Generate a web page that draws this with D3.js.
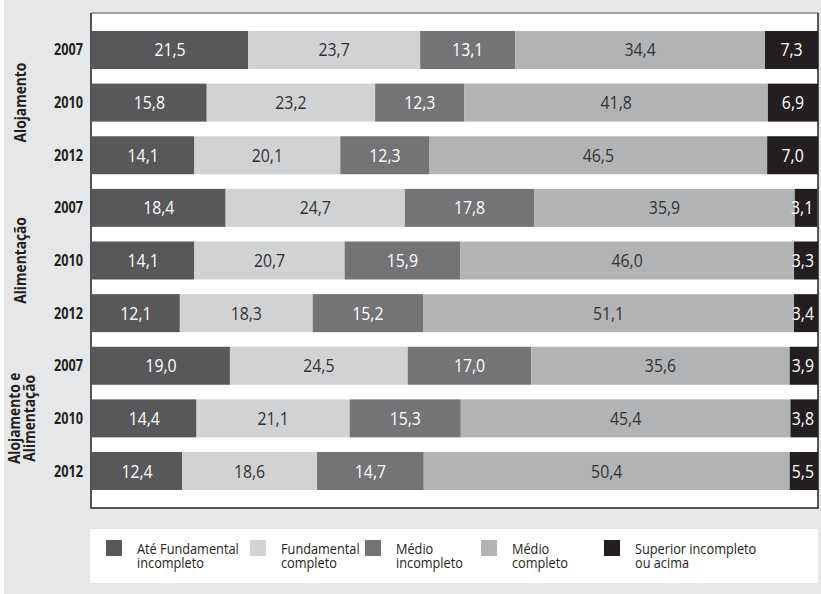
<!DOCTYPE html>
<html>
<head>
<meta charset="utf-8">
<script src="https://cdn.jsdelivr.net/npm/d3@7"></script>
<style>
  body { margin: 0; background: #fff; }
  text { font-family: "Open Sans", sans-serif; }
</style>
</head>
<body>
<div id="chart"></div>
<script>
const width = 821;
const height = 594;

// data
const groups = ["Alojamento", "Alimentação", "Alojamento e Alimentação"];
const years = ["2007", "2010", "2012"];
const categories = ["Até Fundamental incompleto", "Fundamental completo", "Médio incompleto", "Médio completo", "Superior incompleto ou acima"];
const alojamento = [
  [21.5, 23.7, 13.1, 34.4, 7.3],
  [15.8, 23.2, 12.3, 41.8, 6.9],
  [14.1, 20.1, 12.3, 46.5, 7.0]
];
const alimentacao = [
  [18.4, 24.7, 17.8, 35.9, 3.1],
  [14.1, 20.7, 15.9, 46.0, 3.3],
  [12.1, 18.3, 15.2, 51.1, 3.4]
];
const ambos = [
  [19.0, 24.5, 17.0, 35.6, 3.9],
  [14.4, 21.1, 15.3, 45.4, 3.8],
  [12.4, 18.6, 14.7, 50.4, 5.5]
];

const colors = ["#58585a", "#d1d2d3", "#747476", "#b2b3b5", "#231f20"];
const textColors = ["#fff", "#333", "#fff", "#333", "#fff"];
const legendLines = [["Até Fundamental", "incompleto"], ["Fundamental", "completo"], ["Médio", "incompleto"], ["Médio", "completo"], ["Superior incompleto", "ou acima"]];
const groupLabelLines = [["Alojamento"], ["Alimentação"], ["Alojamento e", "Alimentação"]];

const rows = [];
[alojamento, alimentacao, ambos].forEach((g, gi) => {
  g.forEach((vals, yi) => rows.push({key: gi + "-" + years[yi], group: gi, year: years[yi], values: vals}));
});

const plot = {left: 91, right: 818, top: 13, bottom: 508};

const svg = d3.select("#chart").append("svg")
  .attr("width", width)
  .attr("height", height);

// condensed look: squeeze text horizontally
function label(parent, x, y, lines, size, sx, anchor, extra, lineH) {
  const t = parent.append("text")
    .attr("transform", `translate(${x},${y}) ${extra || ""} scale(${sx},1)`)
    .attr("text-anchor", anchor || "start")
    .style("font-size", size + "px");
  [].concat(lines).forEach((l, i) => {
    t.append("tspan").attr("x", 0).attr("dy", i ? lineH : 0).text(l);
  });
  return t;
}

svg.append("rect")
  .attr("x", 4).attr("y", 0)
  .attr("width", width - 4).attr("height", height)
  .attr("fill", "#e6e7e8");

svg.append("rect")
  .attr("x", plot.left).attr("y", plot.top)
  .attr("width", plot.right - plot.left).attr("height", plot.bottom - plot.top)
  .attr("fill", "#fff");

// bars past 100% are cut at the frame, as in the original
const x = d3.scaleLinear().domain([0, 100]).range([plot.left + 1, plot.right]).clamp(true);
const y = d3.scaleBand()
  .domain(rows.map(d => d.key))
  .range([31, 490])
  .paddingInner(0.278)
  .paddingOuter(0);

const rowG = svg.selectAll(".row")
  .data(rows)
  .enter().append("g")
  .attr("transform", d => `translate(0,${y(d.key)})`);

rowG.each(function(d) {
  const g = d3.select(this);
  let acc = 0;
  d.values.forEach((v, i) => {
    const x0 = x(acc), x1 = x(acc + v);
    g.append("rect")
      .attr("x", x0).attr("y", 0)
      .attr("width", x1 - x0).attr("height", y.bandwidth())
      .attr("fill", colors[i]);
    const narrow = (x1 - x0) < 34;
    label(g, narrow ? x1 - 4 : (x0 + x1) / 2, y.bandwidth() / 2 + 6.5,
          v.toFixed(1).replace(".", ","), 18, 0.88, narrow ? "end" : "middle")
      .attr("fill", textColors[i]);
    acc += v;
  });
  label(g, 83, y.bandwidth() / 2 + 5.5, d.year, 15.5, 0.82, "end")
    .attr("fill", "#231f20")
    .style("font-weight", "bold");
});

// frame
svg.append("line")
  .attr("x1", plot.left).attr("x2", plot.right)
  .attr("y1", plot.top).attr("y2", plot.top)
  .attr("stroke", "#8a8a8c").attr("stroke-width", 1.5);
svg.append("path")
  .attr("d", `M${plot.left},${plot.top}V${plot.bottom}H${plot.right}V${plot.top}`)
  .attr("fill", "none")
  .attr("stroke", "#231f20").attr("stroke-width", 1.5);

// group labels
groupLabelLines.forEach((lines, gi) => {
  const cy = y(gi + "-2010") + y.bandwidth() / 2;
  const x0 = lines.length === 1 ? 26 : 20;
  label(svg, x0, cy, lines, 16, 0.86, "middle", "rotate(-90)", 15)
    .attr("fill", "#231f20")
    .style("font-weight", "bold");
});

// legend
svg.append("rect")
  .attr("x", 90).attr("y", 529)
  .attr("width", 728).attr("height", 54)
  .attr("fill", "#fff");

const legendX = [106, 250, 365, 481, 604];
categories.forEach((c, i) => {
  svg.append("rect")
    .attr("x", legendX[i]).attr("y", 540)
    .attr("width", 16).attr("height", 16)
    .attr("fill", colors[i]);
  label(svg, legendX[i] + 31, 554, legendLines[i], 15, 0.85, "start", "", 13.5)
    .attr("fill", "#231f20");
});
</script>
</body>
</html>
